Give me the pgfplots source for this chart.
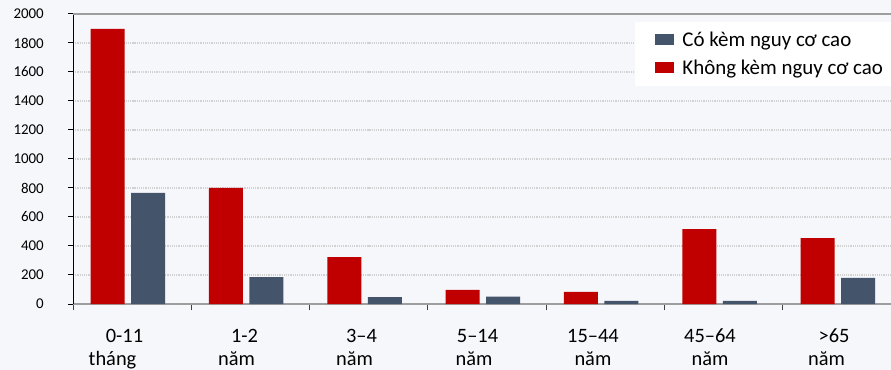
\documentclass[border=0pt]{standalone}
\usepackage{fontspec}
\setmainfont{Carlito}
\usepackage{pgfplots}
\pgfplotsset{compat=1.18}
\definecolor{bgc}{HTML}{F5F7FB}
\definecolor{barred}{HTML}{C00000}
\definecolor{barslate}{HTML}{44546A}
\definecolor{gridc}{HTML}{D2D2D2}
\definecolor{framec}{HTML}{9E9E9E}

\begin{document}
\begin{tikzpicture}
\path[use as bounding box, fill=bgc] (0,0) rectangle (891bp,370bp);
\begin{axis}[
  at={(73bp,66bp)}, anchor=south west,
  scale only axis, width=818bp, height=290bp,
  xmin=-0.5, xmax=6.413, ymin=0, ymax=2000,
  clip=false,
  axis x line*=bottom, axis y line*=left,
  x axis line style={framec, line width=1.5bp},
  y axis line style={black, line width=1bp},
  tick align=outside,
  major tick length=5bp, minor tick length=6bp,
  ytick={0,200,...,2000},
  ytick style={black, line width=1bp},
  yticklabel style={font=\fontsize{15}{18}\selectfont, anchor=east, inner sep=0pt, xshift=-24bp},
  /pgf/number format/assume math mode=true,
  /pgf/number format/1000 sep={},
  xtick={-0.166,0.882,1.879,2.889,3.894,4.883,5.868},
  xticklabels={{\hspace*{24bp}0-11\\tháng},
               {\hspace*{16bp}1-2\\năm},
               {\hspace*{14bp}3–4\\năm},
               {\hspace*{7bp}5–14\\năm},
               {15–44\\năm},
               {45–64\\năm},
               {\hspace*{15bp}>65\\năm}},
  major x tick style={draw=none},
  minor xtick={-0.5,0.5,...,5.5},
  minor x tick style={black!75, line width=1bp},
  xticklabel style={font=\fontsize{20.5}{23}\selectfont, align=center, anchor=north, inner sep=0pt, yshift=-20bp},
  ymajorgrids,
  major grid style={gridc, line width=1.2bp, densely dotted},
  ybar, bar width=34bp,
  reverse legend,
  legend cell align=left,
  legend style={at={(1,0.972)}, anchor=north east, draw=none, fill=white,
    inner xsep=6bp, inner ysep=8bp, row sep=8bp,
    font=\fontsize{21}{25}\selectfont},
  legend image code/.code={\path (0bp,0bp) (39bp,0bp); \fill[#1, draw=none] (14bp,-5bp) rectangle (33bp,6bp);},
]
% patients without high-risk conditions
\addplot[fill=barred, draw=none, bar shift=-24.5bp] coordinates
  {(0,1897) (1,800) (2,324) (3,97) (4,83) (5,517) (6,455)};
% patients with high-risk conditions
\addplot[fill=barslate, draw=none, bar shift=16bp] coordinates
  {(0,766) (1,186) (2,48) (3,50) (4,21) (5,21) (6,181)};
\legend{Không kèm nguy cơ cao, Có kèm nguy cơ cao}
\draw[framec, line width=1.5bp] (rel axis cs:0,1) -- (rel axis cs:1,1);
\end{axis}
\end{tikzpicture}
\end{document}
